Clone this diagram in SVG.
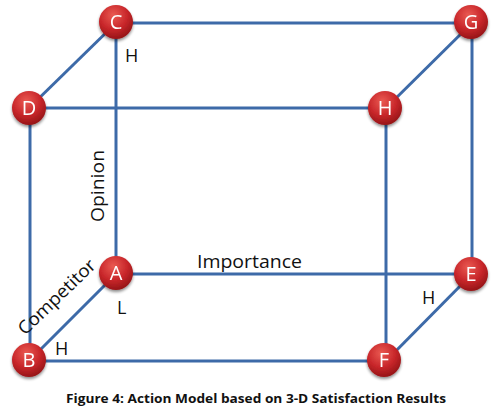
<svg xmlns="http://www.w3.org/2000/svg" width="500" height="418" viewBox="0 0 500 418">
<defs>
<radialGradient id="ball" cx="0.42" cy="0.3" r="0.75">
<stop offset="0" stop-color="#ea5a52"/>
<stop offset="0.55" stop-color="#c8262a"/>
<stop offset="1" stop-color="#8e1214"/>
</radialGradient>
<filter id="sh" x="-30%" y="-30%" width="160%" height="170%">
<feGaussianBlur in="SourceAlpha" stdDeviation="1.5"/>
<feOffset dx="0" dy="2" result="b"/>
<feComponentTransfer><feFuncA type="linear" slope="0.45"/></feComponentTransfer>
<feMerge><feMergeNode/><feMergeNode in="SourceGraphic"/></feMerge>
</filter>
</defs>
<style>
.e{stroke:#3d6aa8;stroke-width:3;fill:none}
.n circle{fill:url(#ball)}
.n text{fill:#fff;font-family:"Open Sans","Liberation Sans",sans-serif;font-size:20px;text-anchor:middle}
.lb{fill:#111;font-family:"Open Sans","Liberation Sans",sans-serif;font-size:18px}
.cap{fill:#111;font-family:"Open Sans","Liberation Sans",sans-serif;font-size:13px;font-weight:bold}
</style>
<rect width="500" height="418" fill="#fff"/>
<g id="connectors">
<line class="e" x1="116" y1="23" x2="472" y2="23"/>
<line class="e" x1="116" y1="23" x2="29" y2="108"/>
<line class="e" x1="116" y1="23" x2="116" y2="274"/>
<line class="e" x1="29" y1="108" x2="386" y2="108"/>
<line class="e" x1="30" y1="108" x2="30" y2="361"/>
<line class="e" x1="472" y1="23" x2="386" y2="108"/>
<line class="e" x1="472" y1="23" x2="472" y2="274"/>
<line class="e" x1="386" y1="108" x2="386" y2="361"/>
<line class="e" x1="116" y1="274" x2="472" y2="274"/>
<line class="e" x1="116" y1="274" x2="29" y2="361"/>
<line class="e" x1="29" y1="361" x2="386" y2="361"/>
<line class="e" x1="472" y1="274" x2="386" y2="361"/>
</g>
<g id="node-C" class="n" filter="url(#sh)"><circle cx="116" cy="22" r="17"/><text x="116" y="29">C</text></g>
<g id="node-G" class="n" filter="url(#sh)"><circle cx="471" cy="22" r="17"/><text x="471" y="29">G</text></g>
<g id="node-D" class="n" filter="url(#sh)"><circle cx="29" cy="108" r="17"/><text x="29" y="115">D</text></g>
<g id="node-H" class="n" filter="url(#sh)"><circle cx="385" cy="108" r="17"/><text x="385" y="115">H</text></g>
<g id="node-A" class="n" filter="url(#sh)"><circle cx="116" cy="273" r="17"/><text x="116" y="280">A</text></g>
<g id="node-E" class="n" filter="url(#sh)"><circle cx="471" cy="274" r="17"/><text x="471" y="281">E</text></g>
<g id="node-B" class="n" filter="url(#sh)"><circle cx="29" cy="360" r="17"/><text x="29" y="367">B</text></g>
<g id="node-F" class="n" filter="url(#sh)"><circle cx="384" cy="360" r="17"/><text x="384" y="367">F</text></g>
<g id="labels">
<text class="lb" x="125" y="62">H</text>
<text class="lb" x="117" y="314">L</text>
<text class="lb" x="55" y="355">H</text>
<text class="lb" x="422" y="304">H</text>
<text class="lb" x="197" y="268" textLength="105" lengthAdjust="spacingAndGlyphs">Importance</text>
<text class="lb" transform="translate(104,222) rotate(-90)" textLength="72" lengthAdjust="spacingAndGlyphs">Opinion</text>
<text class="lb" transform="translate(25,336) rotate(-44)" textLength="100" lengthAdjust="spacingAndGlyphs">Competitor</text>
<text class="cap" x="66" y="403" textLength="380" lengthAdjust="spacingAndGlyphs">Figure 4: Action Model based on 3-D Satisfaction Results</text>
</g>
</svg>
